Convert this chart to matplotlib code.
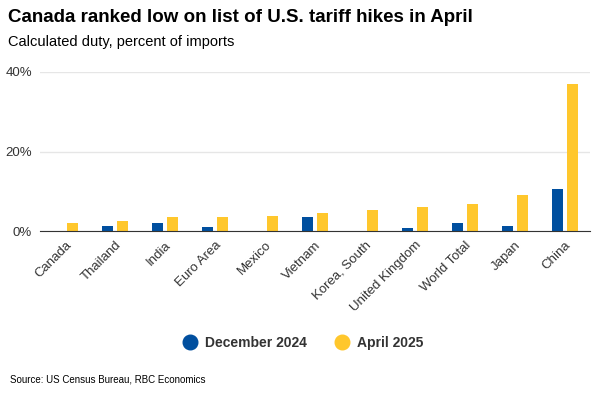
import matplotlib
matplotlib.use("Agg")
import matplotlib.pyplot as plt
import numpy as np

plt.rcParams['font.family'] = ['Liberation Sans', 'DejaVu Sans']

countries = ["Canada", "Thailand", "India", "Euro Area", "Mexico", "Vietnam",
             "Korea, South", "United Kingdom", "World Total", "Japan", "China"]
dec_2024 = [0.0, 1.3, 2.0, 1.0, 0.0, 3.6, 0.0, 0.75, 2.0, 1.3, 10.6]
apr_2025 = [2.0, 2.5, 3.6, 3.6, 3.8, 4.6, 5.25, 6.0, 6.75, 9.0, 37.0]
yticks = [0, 20, 40]

blue = "#004f9f"
yellow = "#ffc72c"

fig = plt.figure(figsize=(6, 4), dpi=100)
ax = fig.add_axes([0.067, 0.4225, 0.916, 0.3975])

x = np.arange(len(countries))
w = 0.22
ax.bar(x - 0.15, dec_2024, w, color=blue, label="December 2024", zorder=3)
ax.bar(x + 0.15, apr_2025, w, color=yellow, label="April 2025", zorder=3)

ax.set_xlim(-0.5, len(countries) - 0.5)
ax.set_ylim(0, 40)
ax.set_yticks(yticks)
ax.set_yticklabels([f"{v}%" for v in yticks], fontsize=9.5, color="#333333")
ax.yaxis.grid(True, color="#e6e6e6", linewidth=1, zorder=0)
ax.set_xticks(x)
ax.set_xticklabels(countries, rotation=45, ha="right", rotation_mode="anchor",
                   fontsize=9.5, color="#333333")
ax.tick_params(length=0, pad=6)
for s in ["top", "right", "left"]:
    ax.spines[s].set_visible(False)
ax.spines["bottom"].set_color("#333333")
ax.spines["bottom"].set_zorder(4)

fig.text(0.013, 0.955, "Canada ranked low on list of U.S. tariff hikes in April",
         fontsize=13.5, fontweight="bold", va="center")
fig.text(0.013, 0.895, "Calculated duty, percent of imports", fontsize=10.5, va="center")
fig.text(0.017, 0.05, "Source: US Census Bureau, RBC Economics", fontsize=7, va="center")

h = [plt.Line2D([], [], marker="o", linestyle="", markersize=10.5, color=c) for c in (blue, yellow)]
leg = fig.legend(h, ["December 2024", "April 2025"], loc="center", bbox_to_anchor=(0.5, 0.142),
                 ncol=2, frameon=False, handletextpad=0.1, columnspacing=1.5,
                 prop={"weight": "bold", "size": 10})
for t in leg.get_texts():
    t.set_color("#333333")

fig.savefig("out.png", dpi=100)
